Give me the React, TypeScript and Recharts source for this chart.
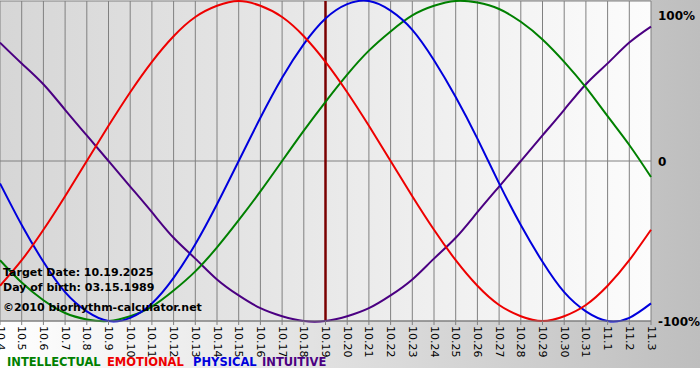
import { LineChart, Line, XAxis, YAxis, CartesianGrid, ReferenceLine } from "recharts";

const days = [
  "10.4", "10.5", "10.6", "10.7", "10.8", "10.9", "10.10", "10.11", "10.12", "10.13",
  "10.14", "10.15", "10.16", "10.17", "10.18", "10.19", "10.20", "10.21", "10.22", "10.23",
  "10.24", "10.25", "10.26", "10.27", "10.28", "10.29", "10.30", "10.31", "11.1", "11.2", "11.3",
];

// percent values read per day
const intellectual = [-62, -76, -87, -95, -99, -100, -97, -91, -81, -69, -54, -37, -19, 0, 19, 37, 54, 69, 81, 91, 97, 100, 99, 95, 87, 76, 62, 46, 28, 10, -10];
const emotional = [-78, -62, -43, -22, 0, 22, 43, 62, 78, 90, 97, 100, 97, 90, 78, 62, 43, 22, 0, -22, -43, -62, -78, -90, -97, -100, -97, -90, -78, -62, -43];
const physical = [-14, -40, -63, -82, -94, -100, -98, -89, -73, -52, -27, 0, 27, 52, 73, 89, 98, 100, 94, 82, 63, 40, 14, -14, -40, -63, -82, -94, -100, -98, -89];
const intuitive = [74, 61, 48, 32, 16, 0, -16, -32, -48, -61, -74, -84, -92, -97, -100, -100, -97, -92, -84, -74, -61, -48, -32, -16, 0, 16, 32, 48, 61, 74, 84];

const yTicks = [-100, 0, 100];
const yLabels: Record<number, string> = { 100: "100%", 0: "0", [-100]: "-100%" };
const targetDay = "10.19";

const legend = [
  { name: "INTELLECTUAL", color: "#008000", x: 7 },
  { name: "EMOTIONAL", color: "#ee0000", x: 107 },
  { name: "PHYSICAL", color: "#0000dd", x: 193 },
  { name: "INTUITIVE", color: "#4b0082", x: 262 },
];

const rows = days.map((day, i) => ({
  day,
  intellectual: intellectual[i],
  emotional: emotional[i],
  physical: physical[i],
  intuitive: intuitive[i],
}));

const font = "'DejaVu Sans', Verdana, sans-serif";

const DayTick = (props: any) => {
  const { x, payload } = props;
  const y = 326;
  return (
    <text
      x={x}
      y={y}
      transform={`rotate(90, ${x}, ${y})`}
      textAnchor="start"
      dominantBaseline="central"
      fontFamily={font}
      fontSize={11}
      fill="#000"
    >
      {payload.value}
    </text>
  );
};

const PercentTick = (props: any) => {
  const { y, payload } = props;
  const v = payload.value;
  return (
    <text x={658} y={v === 100 ? y + 11 : y + 5} fontFamily={font} fontSize={12} fontWeight="bold" fill="#000">
      {yLabels[v]}
    </text>
  );
};

export default function App() {
  return (
    <div style={{ position: "absolute", left: 0, top: 0, width: 700, height: 380, background: "#fff" }}>
      <div
        style={{
          position: "absolute",
          left: 0,
          top: 0,
          width: 700,
          height: 368,
          background: "linear-gradient(to right, #ffffff, #bebebe)",
        }}
      />
      <div style={{ position: "absolute", left: 0, top: 0 }}>
        <LineChart width={700} height={380} data={rows} margin={{ top: 1, right: 0, bottom: 0, left: 0 }}>
          <defs>
            <linearGradient id="plotBg" x1="0" y1="0" x2="1" y2="0">
              <stop offset="0%" stopColor="#d6d6d6" />
              <stop offset="100%" stopColor="#fcfcfc" />
            </linearGradient>
          </defs>
          <CartesianGrid stroke="#808080" fill="url(#plotBg)" fillOpacity={1} />
          <XAxis
            dataKey="day"
            interval={0}
            tick={<DayTick />}
            tickSize={4}
            tickMargin={1}
            tickLine={{ stroke: "#808080" }}
            axisLine={{ stroke: "#808080" }}
            height={59}
          />
          <YAxis
            orientation="right"
            domain={[-100, 100]}
            ticks={yTicks}
            tick={<PercentTick />}
            tickLine={false}
            axisLine={false}
            width={49}
          />
          <ReferenceLine x={targetDay} stroke="#7a0000" strokeWidth={2.5} />
          <Line dataKey="intuitive" stroke="#4b0082" strokeWidth={2} dot={false} type="natural" isAnimationActive={false} />
          <Line dataKey="intellectual" stroke="#008000" strokeWidth={2} dot={false} type="natural" isAnimationActive={false} />
          <Line dataKey="physical" stroke="#0000dd" strokeWidth={2} dot={false} type="natural" isAnimationActive={false} />
          <Line dataKey="emotional" stroke="#ee0000" strokeWidth={2} dot={false} type="natural" isAnimationActive={false} />
        </LineChart>
      </div>
      <svg width={700} height={380} style={{ position: "absolute", left: 0, top: 0, pointerEvents: "none" }}>
        <g fontFamily={font} fontSize={11} fontWeight="bold" fill="#000">
          <text x={3} y={276}>Target Date: 10.19.2025</text>
          <text x={3} y={291}>Day of birth: 03.15.1989</text>
          <text x={3} y={311}>©2010 biorhythm-calculator.net</text>
        </g>
        <g fontFamily={font} fontSize={11.5} fontWeight="bold">
          {legend.map((l) => (
            <text key={l.name} x={l.x} y={366} fill={l.color}>
              {l.name}
            </text>
          ))}
        </g>
      </svg>
    </div>
  );
}
